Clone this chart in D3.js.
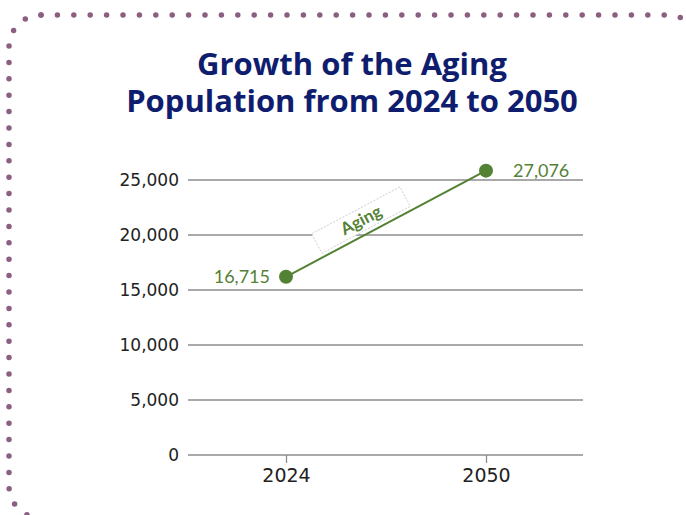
<!DOCTYPE html>
<html><head><meta charset="utf-8">
<script src="https://cdn.jsdelivr.net/npm/d3@7"></script>
<style>html,body{margin:0;padding:0;background:#fff;}svg{display:block;}</style>
</head><body>
<svg id="c" width="686" height="515"></svg>
<script>
const titleLines = ["Growth of the Aging", "Population from 2024 to 2050"];
const categories = ["2024", "2050"];
const seriesName = "Aging";
// plotted positions
const values = [16200, 25850];
// data labels as printed
const valueLabels = ["16,715", "27,076"];
const yTicks = [0, 5000, 10000, 15000, 20000, 25000];

const svg = d3.select("#c");
const green = "#548235";
const dotColor = "#8a5f82";

// dotted frame (two paths starting at the same top-left dot)
const frame = [
  "M41,15 A32,32 0 0 0 9,47 L9,486 A32,32 0 0 0 41,518 L720,518",
  "M41,15 L668,15 A32,32 0 0 1 700,47 L700,530"
];
svg.append("g").selectAll("path").data(frame).join("path")
  .attr("d", d => d).attr("fill", "none").attr("stroke", dotColor)
  .attr("stroke-width", 5.5).attr("stroke-linecap", "round").attr("stroke-dasharray", "0 16.4");

// title (one text element, two lines)
const title = svg.append("text").attr("text-anchor", "middle").attr("fill", "#0f1d6e")
  .style("font-family", "'Open Sans', Lato, sans-serif").style("font-weight", 700).style("font-size", "31px");
title.selectAll("tspan").data(titleLines).join("tspan")
  .attr("x", 352).attr("y", (d, i) => 75 + i * 37).text(d => d);

const x = d3.scalePoint().domain(categories).range([189, 583]).padding(0.485);
const y = d3.scaleLinear().domain([0, 25000]).range([455, 180]);

// gridlines
svg.append("g").selectAll("line").data(yTicks).join("line")
  .attr("x1", 188).attr("x2", 583).attr("y1", d => y(d)).attr("y2", d => y(d))
  .attr("stroke", "#8c8c8c").attr("stroke-width", 1.3);

const axisFont = (sel, size) => sel.style("font-family", "'DejaVu Sans', Verdana, sans-serif")
  .style("font-size", size + "px").attr("fill", "#222");

// y axis labels
const yAxis = svg.append("g").attr("transform", "translate(188,0)")
  .call(d3.axisLeft(y).tickValues(yTicks).tickFormat(d3.format(",")).tickSize(0).tickPadding(9));
yAxis.select(".domain").remove();
yAxis.selectAll("text").call(axisFont, 17);

// x axis
const xAxis = svg.append("g").attr("transform", "translate(0,455)")
  .call(d3.axisBottom(x).tickSize(8).tickPadding(6));
xAxis.select(".domain").remove();
xAxis.selectAll("line").attr("stroke", "#8c8c8c").attr("stroke-width", 1.3);
xAxis.selectAll("text").call(axisFont, 19);

const pts = categories.map((c, i) => ({c, v: values[i], label: valueLabels[i]}));

// line
svg.append("path").datum(pts)
  .attr("d", d3.line().x(d => x(d.c)).y(d => y(d.v)))
  .attr("fill", "none").attr("stroke", green).attr("stroke-width", 2);

// series label along the line
const p0 = pts[0], p1 = pts[1];
const ang = Math.atan2(y(p1.v) - y(p0.v), x(p1.c) - x(p0.c)) * 180 / Math.PI;
const f = 0.41;
const mx = x(p0.c) + (x(p1.c) - x(p0.c)) * f;
const my = y(p0.v) + (y(p1.v) - y(p0.v)) * f;
const lg = svg.append("g").attr("transform", `translate(${mx},${my}) rotate(${ang}) translate(0,-15)`);
lg.append("rect").attr("x", -50).attr("y", -11).attr("width", 100).attr("height", 22)
  .attr("fill", "#fff").attr("stroke", "#c8c8c8").attr("stroke-width", 0.8).attr("stroke-dasharray", "2 1.5");
lg.append("text").attr("x", 0).attr("y", 6).attr("text-anchor", "middle")
  .attr("fill", green).style("font-family", "Lato, 'Open Sans', sans-serif").style("font-weight", 700).style("font-size", "17px")
  .text(seriesName);

// points
svg.append("g").selectAll("circle").data(pts).join("circle")
  .attr("cx", d => x(d.c)).attr("cy", d => y(d.v)).attr("r", 7).attr("fill", green);

// data labels
svg.append("g").selectAll("text").data(pts).join("text")
  .attr("x", (d, i) => i === 0 ? x(d.c) - 16 : x(d.c) + 27)
  .attr("y", d => y(d.v) + 6)
  .attr("text-anchor", (d, i) => i === 0 ? "end" : "start")
  .attr("fill", green).style("font-family", "Lato, 'Open Sans', sans-serif").style("font-size", "18px")
  .text(d => d.label);
</script>
</body></html>
